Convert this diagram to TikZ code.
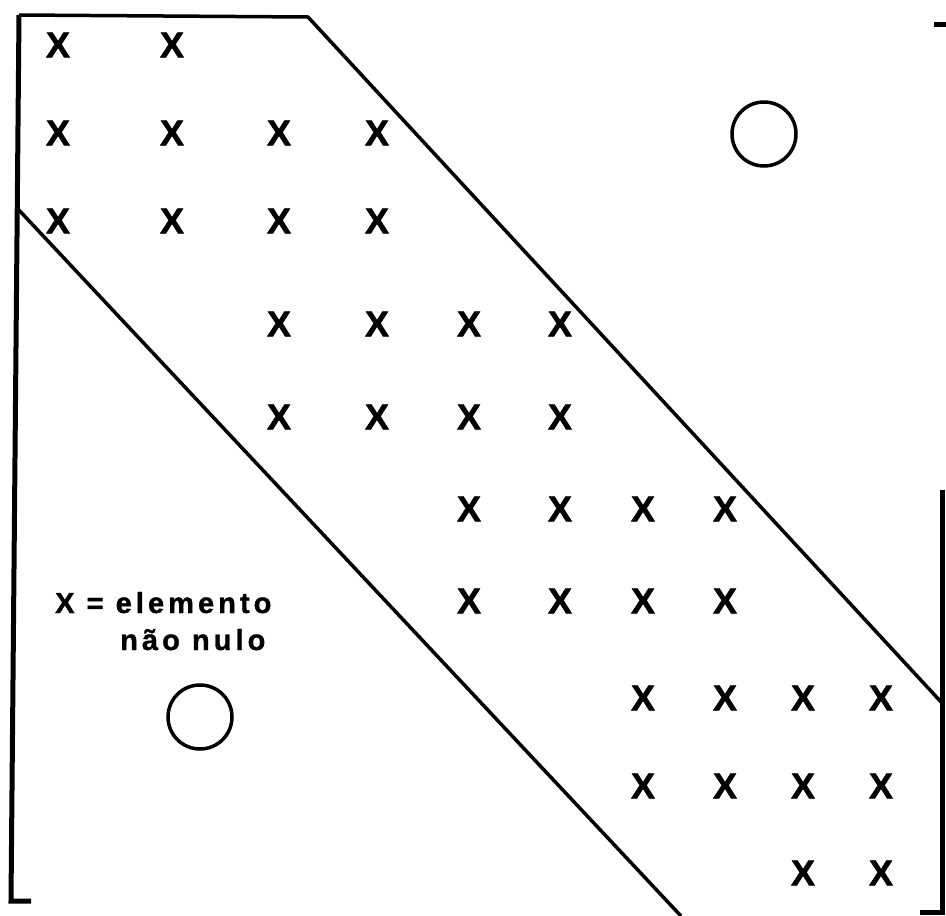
\documentclass[tikz,border=0pt]{standalone}
\usepackage{fontspec}
\newfontfamily\markfont{Liberation Sans}[UprightFont={* Bold},FakeBold=1.5]
\newfontfamily\keyfont{Liberation Sans}[UprightFont={* Bold},FakeBold=1.2,LetterSpace=14]
\usetikzlibrary{positioning}

\tikzset{
  nzero/.style={inner sep=0pt,font=\markfont\fontsize{36}{36}\selectfont},
  zeroblk/.style={draw,circle,line width=3.5pt,minimum size=64pt,inner sep=0pt},
  bandline/.style={line width=3.5pt,line join=round},
  bracket/.style={line width=5pt},
  keytext/.style={inner sep=0pt,anchor=base west,font=\keyfont\fontsize{29}{29}\selectfont}
}

\begin{document}
\begin{tikzpicture}[x=1pt,y=-1pt]
  \useasboundingbox (0,0) rectangle (946,916);
  % non zero elements of the band
  \foreach \r/\c in {1/1,1/2,
                     2/1,2/2,2/3,2/4, 3/1,3/2,3/3,3/4,
                     4/3,4/4,4/5,4/6, 5/3,5/4,5/5,5/6,
                     6/5,6/6,6/7,6/8, 7/5,7/6,7/7,7/8,
                     8/7,8/8,8/9,8/10, 9/7,9/8,9/9,9/10,
                     10/9,10/10}{
    \pgfmathsetmacro{\xx}{{58,172,279,377,469,560,643,725,803,881}[\c-1]}
    \pgfmathsetmacro{\yy}{{45,133,221,324,417,509,601,698,786,873}[\r-1]}
    \node[nzero] (m\r-\c) at (\xx,\yy) {X};
  }
  % band limits
  \coordinate (up0) at (19,15);
  \coordinate (up1) at (308,17);
  \coordinate (up2) at (942,703);
  \coordinate (lo1) at (17,208);
  \coordinate (lo2) at (681,916);
  \draw[bandline] (up0) -- (up1) -- (up2);
  \draw[bandline] (lo1) -- (lo2);
  % brackets
  \draw[bracket] (up0) -- (11,901) -- (31,901);
  \draw[bracket] (942,490) -- (942,912) -- (920,912);
  \draw[bracket] (934,24) -- (946,24);
  % zero blocks
  \node[zeroblk] (zeroU) at (764,134) {};
  \node[zeroblk] (zeroL) at (200,717) {};
  % legend
  \node[keytext] (key) at (55,613) {X = elemento};
  \node[keytext] (keyb) at (120,650) {não nulo};
\end{tikzpicture}
\end{document}
